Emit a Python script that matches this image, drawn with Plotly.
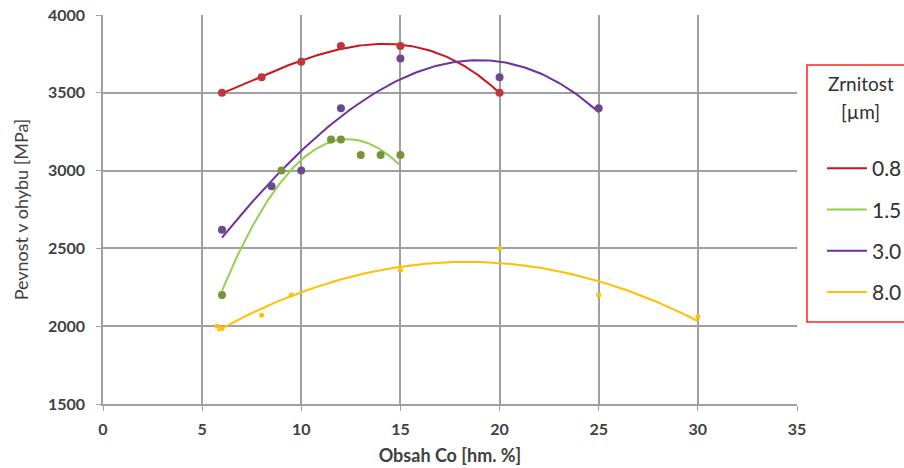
import numpy as np
import plotly.graph_objects as go

# ---- data ----
series_names = ["0.8", "1.5", "3.0", "8.0"]

x_08 = [6, 8, 10, 12, 15, 20]
y_08 = [3500, 3600, 3700, 3800, 3800, 3500]

x_15 = [6, 9, 11.5, 12, 13, 14, 15]
y_15 = [2200, 3000, 3200, 3200, 3100, 3100, 3100]

x_30 = [6, 8.5, 10, 12, 15, 20, 25]
y_30 = [2620, 2900, 3000, 3400, 3720, 3600, 3400]

x_80 = [5.75, 6, 8, 9.5, 15, 20, 25, 30]
y_80 = [2000, 1985, 2070, 2200, 2360, 2500, 2200, 2060]

trend_orders = [3, 2, 3, 2]

x_ticks = [0, 5, 10, 15, 20, 25, 30, 35]
y_ticks = [1500, 2000, 2500, 3000, 3500, 4000]

legend_title_lines = ["Zrnitost", "[µm]"]

line_colors = ["#C8161D", "#92D050", "#7030A0", "#FFC000"]
marker_colors = ["#C0363A", "#77933C", "#6A4A8C", "#FFC000"]
marker_sizes = [8, 8, 8, 5]

FONT = "Lato"
TXT = "#404040"

fig = go.Figure()

all_x = [x_08, x_15, x_30, x_80]
all_y = [y_08, y_15, y_30, y_80]

# polynomial trend lines fitted to each series (as in the original spreadsheet chart)
for i, (xs, ys) in enumerate(zip(all_x, all_y)):
    coef = np.polyfit(xs, ys, trend_orders[i])
    xt = np.linspace(min(xs), max(xs), 150)
    yt = np.polyval(coef, xt)
    fig.add_trace(go.Scatter(
        x=xt, y=yt, mode="lines", name=series_names[i],
        line=dict(color=line_colors[i], width=2),
        legendgroup=series_names[i], showlegend=True, hoverinfo="skip"))

# data markers
for i, (xs, ys) in enumerate(zip(all_x, all_y)):
    fig.add_trace(go.Scatter(
        x=xs, y=ys, mode="markers", name=series_names[i],
        marker=dict(color=marker_colors[i], size=marker_sizes[i]),
        legendgroup=series_names[i], showlegend=False))

# legend frame (red box, runs off the right edge as in the reference) and its title
fig.add_shape(type="rect", xref="paper", yref="paper",
              x0=1.0144, x1=1.2, y0=0.2108, y1=0.8715,
              line=dict(color="#FF2020", width=1.5), fillcolor="rgba(0,0,0,0)")
for txt, ypos in zip(legend_title_lines, [0.825, 0.753]):
    fig.add_annotation(xref="paper", yref="paper", x=1.0922, y=ypos,
                       xanchor="center", yanchor="middle", showarrow=False,
                       text=txt, font=dict(family=FONT, size=19, color="#303030"))

fig.update_layout(
    width=904, height=468,
    margin=dict(l=103, r=107, t=15, b=64, autoexpand=False),
    paper_bgcolor="white", plot_bgcolor="white",
    font=dict(family=FONT, color=TXT, size=13),
    legend=dict(
        x=1.036, y=0.658, xanchor="left", yanchor="top",
        bgcolor="rgba(0,0,0,0)", borderwidth=0,
        font=dict(family=FONT, size=21, color="#303030"),
        tracegroupgap=11, itemwidth=40,
    ),
)

fig.update_xaxes(
    range=[0, 35], tickvals=x_ticks, ticktext=[str(v) for v in x_ticks],
    showgrid=True, gridcolor="#A0A0A0", gridwidth=1.5,
    showline=True, linecolor="#A0A0A0", linewidth=1.5, mirror=False,
    ticks="outside", ticklen=5, tickcolor="#A0A0A0", ticklabelstandoff=5,
    tickfont=dict(family=FONT, size=16, color=TXT, weight="bold"),
    zeroline=False,
    title=dict(text="Obsah Co [hm. %]", standoff=12,
               font=dict(family=FONT, size=18, color=TXT, weight="bold")),
)
fig.update_yaxes(
    range=[1500, 4000], tickvals=y_ticks, ticktext=[str(v) for v in y_ticks],
    showgrid=True, gridcolor="#A0A0A0", gridwidth=1.5,
    showline=True, linecolor="#A0A0A0", linewidth=1.5,
    ticks="outside", ticklen=5, tickcolor="#A0A0A0", ticklabelstandoff=8,
    tickfont=dict(family=FONT, size=16, color=TXT, weight="bold"),
    zeroline=False,
    title=dict(text="Pevnost v ohybu [MPa]", standoff=15,
               font=dict(family=FONT, size=18, color=TXT)),
)

fig.write_html("out.html")
